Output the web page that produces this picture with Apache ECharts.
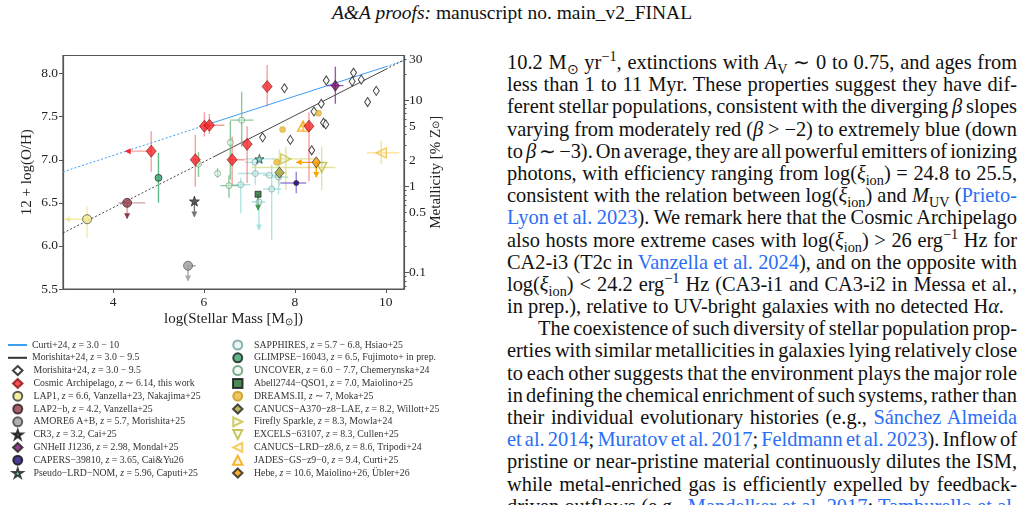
<!DOCTYPE html>
<html>
<head>
<meta charset="utf-8">
<script src="https://cdn.jsdelivr.net/npm/echarts@6/dist/echarts.min.js"></script>
<style>
html, body { margin: 0; padding: 0; width: 1024px; height: 505px; overflow: hidden; background: #fff; }
#chart { position: absolute; left: 0; top: 0; width: 500px; height: 505px; }
.hdr { position: absolute; left: 0; top: 2px; width: 1024px; text-align: center; font-family: 'Liberation Serif'; font-size: 19.5px; line-height: 22px; color: #111; }
#text { position: absolute; left: 507px; top: 51px; width: 510px; font-family: 'Liberation Serif'; font-size: 20.4px; line-height: 22.2px; color: #111; }
#text div { white-space: nowrap; height: 22.2px; }
#text .ind { padding-left: 31px; }
.ln { color: #2a6ef5; }
sub, sup { font-size: 0.7em; line-height: 0; }
</style>
</head>
<body>
<div class="hdr"><i>A&amp;A proofs:</i> manuscript no. main_v2_FINAL</div>
<div id="chart"></div>
<div id="text">
<div class="j"><span class="w">10.2 M<sub>⊙</sub> yr<sup>−1</sup>, extinctions with <i>A</i><sub>V</sub> ∼ 0 to 0.75, and ages from</span></div>
<div class="j"><span class="w">less than 1 to 11 Myr. These properties suggest they have dif-</span></div>
<div class="j"><span class="w">ferent stellar populations, consistent with the diverging <i>β</i> slopes</span></div>
<div class="j"><span class="w">varying from moderately red (<i>β</i> &gt; −2) to extremely blue (down</span></div>
<div class="j"><span class="w">to <i>β</i> ∼ −3). On average, they are all powerful emitters of ionizing</span></div>
<div class="j"><span class="w">photons, with efficiency ranging from log(<i>ξ</i><sub>ion</sub>) = 24.8 to 25.5,</span></div>
<div class="j"><span class="w">consistent with the relation between log(<i>ξ</i><sub>ion</sub>) and <i>M</i><sub>UV</sub> (<span class="ln">Prieto-</span></span></div>
<div class="j"><span class="w"><span class="ln">Lyon et al. 2023</span>). We remark here that the Cosmic Archipelago</span></div>
<div class="j"><span class="w">also hosts more extreme cases with log(<i>ξ</i><sub>ion</sub>) &gt; 26 erg<sup>−1</sup> Hz for</span></div>
<div class="j"><span class="w">CA2-i3 (T2c in <span class="ln">Vanzella et al. 2024</span>), and on the opposite with</span></div>
<div class="j"><span class="w">log(<i>ξ</i><sub>ion</sub>) &lt; 24.2 erg<sup>−1</sup> Hz (CA3-i1 and CA3-i2 in Messa et al.,</span></div>
<div><span class="w">in prep.), relative to UV-bright galaxies with no detected H<i>α</i>.</span></div>
<div class="j ind"><span class="w">The coexistence of such diversity of stellar population prop-</span></div>
<div class="j"><span class="w">erties with similar metallicities in galaxies lying relatively close</span></div>
<div class="j"><span class="w">to each other suggests that the environment plays the major role</span></div>
<div class="j"><span class="w">in defining the chemical enrichment of such systems, rather than</span></div>
<div class="j"><span class="w">their individual evolutionary histories (e.g., <span class="ln">Sánchez Almeida</span></span></div>
<div class="j"><span class="w"><span class="ln">et al. 2014</span>; <span class="ln">Muratov et al. 2017</span>; <span class="ln">Feldmann et al. 2023</span>). Inflow of</span></div>
<div class="j"><span class="w">pristine or near-pristine material continuously dilutes the ISM,</span></div>
<div class="j"><span class="w">while metal-enriched gas is efficiently expelled by feedback-</span></div>
<div class="j"><span class="w">driven outflows (e.g., <span class="ln">Mandelker et al. 2017</span>; <span class="ln">Tamburello et al.</span></span></div>
</div>
<script>
// axis ticks
var massTicks = [4, 6, 8, 10];
var ohTicks = [5.5, 6.0, 6.5, 7.0, 7.5, 8.0];
var metalLabels = [0.1, 0.5, 1, 2, 5, 10, 30];      // % Z_sun
var metalMajor = [0.1, 1, 10];
var metalMinor = [0.07, 0.08, 0.09, 0.2, 0.3, 0.4, 0.5, 0.6, 0.7, 0.8, 0.9, 2, 3, 4, 5, 6, 7, 8, 9, 20, 30];

// relations: [logM, 12+log(O/H)]
var curtiSolid = [[6.2, 7.43], [10.0, 8.08]];
var curtiLow = [[2.9, 6.86], [6.2, 7.43]];
var curtiHigh = [[10.0, 8.08], [10.4, 8.15]];
var morishitaSolid = [[6.2, 7.03], [10.0, 8.05]];
var morishitaLow = [[2.9, 6.15], [6.2, 7.03]];
var morishitaHigh = [[10.0, 8.05], [10.4, 8.16]];

// morishita+24 individual galaxies
var morishitaPts = [[7.77, 7.83], [8.69, 7.92], [9.29, 8.01], [9.26, 7.91], [9.46, 7.93], [9.79, 7.80], [9.60, 7.67],
    [8.58, 7.65], [8.42, 7.56], [8.63, 7.43], [8.68, 7.41], [7.29, 7.26], [7.90, 7.23], [8.37, 7.11]];

// rows: [logM, OH, mLo, mHi, ohLo, ohHi, mass upper limit, OH upper limit]
var cosmicArchipelago = [
    [4.84, 7.10, 4.28, 4.84, 6.86, 7.33, 1, 0],
    [6.01, 7.39, 5.92, 6.10, 7.27, 7.55, 0, 0],
    [6.12, 7.40, 6.02, 6.45, 7.30, 7.53, 0, 0],
    [5.81, 7.00, 5.75, 5.90, 6.69, 7.29, 0, 0],
    [6.62, 7.00, 6.55, 6.90, 6.71, 7.27, 0, 0],
    [6.95, 7.18, null, null, 6.73, 7.39, 0, 0],
    [7.39, 7.85, null, null, 7.62, 8.10, 0, 0],
    [8.31, 7.39, null, null, 6.75, 7.55, 0, 0]
];
var lap1 = [[3.43, 6.31, 2.95, 3.43, 6.09, 6.46, 1, 0]];
var lap2b = [[4.31, 6.50, 4.12, 4.71, 6.32, 6.50, 0, 1]];
var amore6 = [[5.65, 5.77, 5.65, 5.82, 5.60, 5.77, 0, 1]];
var cr3 = [[5.79, 6.52, null, null, 6.34, 6.52, 0, 1]];
var gnheii = [[8.89, 7.86, 8.70, 9.07, 7.65, 8.08, 0, 0]];
var capers = [[8.03, 6.73, 7.68, 8.25, 6.61, 6.86, 0, 0]];
var pseudoLrd = [[7.22, 7.01, 6.90, 7.55, null, null, 0, 0]];
var sapphires = [
    [6.81, 6.71, 6.62, 7.02, 6.38, 6.79, 0, 0],
    [7.13, 6.84, 6.75, 7.38, 6.71, 6.96, 0, 0],
    [7.12, 6.97, 6.90, 7.30, null, null, 0, 0],
    [7.44, 6.82, 7.30, 7.60, null, null, 0, 0],
    [7.49, 6.66, 7.30, 7.70, 6.07, 6.94, 0, 0],
    [7.21, 6.51, 7.05, 7.35, 6.19, 6.51, 0, 1],
    [7.64, 6.80, 7.50, 7.85, 6.60, 6.95, 0, 0]
];
var glimpse = [[5.00, 6.79, null, null, 6.50, 7.08, 0, 0]];
var uncover = [
    [5.88, 6.95, null, null, 6.80, 7.09, 0, 0],
    [6.30, 6.84, null, null, 6.79, 6.90, 0, 0],
    [6.58, 7.20, null, null, 6.77, 7.45, 0, 0],
    [6.55, 6.70, 6.36, 6.76, 6.56, 6.82, 0, 0],
    [6.83, 7.46, 6.58, 7.09, 7.15, 7.79, 0, 0]
];
var abell2744 = [[7.19, 6.60, null, null, 6.42, 6.60, 0, 1]];
var dreams = [[7.73, 7.35, null, null, null, null, 0, 0], [8.52, 7.54, null, null, null, null, 0, 0], [7.60, 6.97, null, null, null, null, 0, 0]];
var canucsA370 = [[7.66, 6.85, 7.55, 7.82, 6.69, 7.12, 0, 0]];
var firefly = [[7.80, 7.01, 7.49, 8.45, 6.65, 7.15, 0, 0]];
var excels = [[8.59, 6.91, 7.05, 8.89, 6.65, 7.15, 0, 0]];
var canucsLrd = [[9.90, 7.08, 9.58, 10.30, 6.95, 7.22, 0, 0]];
var jades = [[8.18, 7.39, 8.11, 8.26, 7.33, 7.45, 0, 0]];
var hebe = [[8.47, 6.97, 8.04, 8.47, 6.80, 6.97, 1, 1]];

var FONT = 'Liberation Serif';
var OH_SUN = 8.69;
function ohOfMetal(p) { return OH_SUN + Math.log10(p / 100); }

var STAR = 'path://M50,0 L61.8,35.1 L98.1,35.1 L68.5,56.7 L79.4,91 L50,70 L20.6,91 L31.5,56.7 L1.9,35.1 L38.2,35.1 Z';
var TRI_R = 'path://M0,0 L10,5 L0,10 Z';
var TRI_L = 'path://M10,0 L0,5 L10,10 Z';
var TRI_D = 'path://M0,0 L10,0 L5,10 Z';

//误差棒 + 上限箭头
function errorBars(color, arrowColor) {
    return function (params, api) {
        var x = api.value(0), y = api.value(1);
        var kids = [];
        var st = {stroke: color, lineWidth: 1.4};
        function seg(a, b) {
            kids.push({type: 'line', shape: {x1: a[0], y1: a[1], x2: b[0], y2: b[1]}, style: st});
        }
        var mLo = api.value(2), mHi = api.value(3), oLo = api.value(4), oHi = api.value(5);
        if (isFinite(mLo) && isFinite(mHi)) seg(api.coord([mLo, y]), api.coord([mHi, y]));
        if (isFinite(oLo) && isFinite(oHi)) seg(api.coord([x, oLo]), api.coord([x, oHi]));
        if (api.value(6) === 1) {
            var a = api.coord([mLo, y]);
            kids.push({type: 'polygon', shape: {points: [[a[0] - 1, a[1]], [a[0] + 5, a[1] - 3], [a[0] + 5, a[1] + 3]]}, style: {fill: arrowColor}});
        }
        if (api.value(7) === 1) {
            var b = api.coord([x, oLo]);
            kids.push({type: 'polygon', shape: {points: [[b[0], b[1] + 1], [b[0] - 3, b[1] - 5], [b[0] + 3, b[1] - 5]]}, style: {fill: arrowColor}});
        }
        return {type: 'group', children: kids};
    };
}

var series = [];

function addLine(name, pts, color, width, dashed) {
    series.push({
        type: 'line', name: name, data: pts, symbol: 'none', showSymbol: false, silent: true, z: 1,
        lineStyle: {color: color, width: width, type: dashed ? [2, 2] : 'solid'},
        itemStyle: {color: color}
    });
}

function addSample(name, rows, marker, errColor, arrowColor) {
    series.push({
        type: 'custom', name: name + ' (err)', data: rows, clip: true, silent: true, z: 2,
        dimensions: ['m', 'oh', 'mlo', 'mhi', 'olo', 'ohi', 'lm', 'lo'].map(function (d) { return {name: d, type: 'float'}; }),
        encode: {x: 0, y: 1},
        renderItem: errorBars(errColor, arrowColor || errColor)
    });
    series.push({
        type: 'scatter', name: name, z: 4, silent: true,
        data: rows.map(function (r) { return [r[0], r[1]]; }),
        symbol: marker.symbol, symbolSize: marker.size,
        itemStyle: {color: marker.fill, borderColor: marker.edge, borderWidth: marker.bw || 0.8}
    });
}

addLine('Curti+24, z = 3.0 − 10', curtiSolid, '#3d9df2', 1, false);
addLine('curti-low', curtiLow, '#3d9df2', 1, true);
addLine('curti-high', curtiHigh, '#3d9df2', 1, true);
addLine('Morishita+24, z = 3.0 − 9.5', morishitaSolid, '#333', 0.9, false);
addLine('morishita-low', morishitaLow, '#333', 0.9, true);
addLine('morishita-high', morishitaHigh, '#333', 0.9, true);

series.push({
    type: 'scatter', name: 'Morishita+24, z = 3.0 − 9.5\u200b', data: morishitaPts, z: 3, silent: true,
    symbol: 'diamond', symbolSize: [6, 9],
    itemStyle: {color: '#fff', borderColor: '#111', borderWidth: 1}
});

addSample('SAPPHIRES, z = 5.7 − 6.8, Hsiao+25', sapphires, {symbol: 'circle', size: 6, fill: 'rgba(210,235,235,0.6)', edge: '#6e9e9a'}, 'rgba(140,220,214,0.7)');
addSample('UNCOVER, z = 6.0 − 7.7, Chemerynska+24', uncover, {symbol: 'circle', size: 6, fill: 'rgba(230,245,235,0.6)', edge: '#5b9a6b'}, 'rgba(100,185,120,0.75)');
addSample('GLIMPSE−16043, z = 6.5, Fujimoto+ in prep.', glimpse, {symbol: 'circle', size: 7, fill: '#35a46a', edge: '#1a1a1a'}, 'rgba(70,175,110,0.85)');
addSample('Abell2744−QSO1, z = 7.0, Maiolino+25', abell2744, {symbol: 'rect', size: 6, fill: '#1f6b30', edge: '#111'}, '#3c9c4c');
addSample('DREAMS.II, z ∼ 7, Moka+25', dreams, {symbol: 'circle', size: 6, fill: '#e9b834', edge: '#c8961c', bw: 0.6}, '#e9b834');
addSample('CANUCS−A370−z8−LAE, z = 8.2, Willott+25', canucsA370, {symbol: 'diamond', size: [9, 11], fill: '#a9a83a', edge: '#222'}, 'rgba(215,215,130,0.7)');
addSample('Firefly Sparkle, z = 8.3, Mowla+24', firefly, {symbol: TRI_R, size: [10, 10], fill: 'rgba(230,230,150,0.25)', edge: '#c5bf3e', bw: 1.4}, 'rgba(215,215,120,0.7)');
addSample('EXCELS−63107, z = 8.3, Cullen+25', excels, {symbol: TRI_D, size: [10, 10], fill: 'rgba(230,230,150,0.25)', edge: '#b8b535', bw: 1.4}, 'rgba(215,215,120,0.7)');
addSample('CANUCS−LRD−z8.6, z = 8.6, Tripodi+24', canucsLrd, {symbol: TRI_L, size: [10, 10], fill: 'rgba(250,225,140,0.25)', edge: '#f2c13a', bw: 1.4}, 'rgba(245,215,110,0.75)');
addSample('JADES−GS−z9−0, z = 9.4, Curti+25', jades, {symbol: 'triangle', size: [11, 10], fill: 'rgba(250,200,100,0.25)', edge: '#f5a300', bw: 1.4}, '#f5b540');
addSample('Hebe, z = 10.6, Maiolino+26, Übler+26', hebe, {symbol: 'diamond', size: [8, 11], fill: '#ff9c00', edge: '#222'}, '#ffa500');
addSample('Pseudo−LRD−NOM, z = 5.96, Caputi+25', pseudoLrd, {symbol: STAR, size: 9, fill: '#62d0c2', edge: '#1a1a1a'}, 'rgba(150,225,218,0.75)');
addSample('CAPERS−39810, z = 3.65, Cai&Yu26', capers, {symbol: 'circle', size: 5, fill: '#1d0b74', edge: '#111'}, 'rgba(140,110,210,0.85)');
addSample('GNHeII J1236, z = 2.98, Mondal+25', gnheii, {symbol: 'diamond', size: [8, 11], fill: '#7d0f72', edge: '#222'}, 'rgba(140,60,160,0.85)');
addSample('CR3, z = 3.2, Cai+25', cr3, {symbol: STAR, size: 10, fill: '#3a3a3a', edge: '#111'}, '#777');
addSample('AMORE6 A+B, z = 5.7, Morishita+25', amore6, {symbol: 'circle', size: 9, fill: '#9c9c9c', edge: '#444'}, '#aaa');
addSample('LAP2−b, z = 4.2, Vanzella+25', lap2b, {symbol: 'circle', size: 9, fill: '#8d3a45', edge: '#2a1a1a'}, 'rgba(190,140,145,0.8)', '#8d3a45');
addSample('LAP1, z = 6.6, Vanzella+23, Nakajima+25', lap1, {symbol: 'circle', size: 9, fill: '#f2e88a', edge: '#333'}, 'rgba(240,232,140,0.8)');
addSample('Cosmic Archipelago, z ∼ 6.14, this work', cosmicArchipelago, {symbol: 'diamond', size: [10, 12], fill: '#f4272a', edge: '#8a1010'}, 'rgba(240,80,80,0.55)', '#f4272a');

var lineNames = ['Curti+24, z = 3.0 − 10', 'Morishita+24, z = 3.0 − 9.5'];
var leftNames = ['Morishita+24, z = 3.0 − 9.5\u200b',
    'Cosmic Archipelago, z ∼ 6.14, this work', 'LAP1, z = 6.6, Vanzella+23, Nakajima+25', 'LAP2−b, z = 4.2, Vanzella+25',
    'AMORE6 A+B, z = 5.7, Morishita+25', 'CR3, z = 3.2, Cai+25', 'GNHeII J1236, z = 2.98, Mondal+25',
    'CAPERS−39810, z = 3.65, Cai&Yu26', 'Pseudo−LRD−NOM, z = 5.96, Caputi+25'];
var rightNames = ['SAPPHIRES, z = 5.7 − 6.8, Hsiao+25', 'GLIMPSE−16043, z = 6.5, Fujimoto+ in prep.',
    'UNCOVER, z = 6.0 − 7.7, Chemerynska+24', 'Abell2744−QSO1, z = 7.0, Maiolino+25', 'DREAMS.II, z ∼ 7, Moka+25',
    'CANUCS−A370−z8−LAE, z = 8.2, Willott+25', 'Firefly Sparkle, z = 8.3, Mowla+24', 'EXCELS−63107, z = 8.3, Cullen+25',
    'CANUCS−LRD−z8.6, z = 8.6, Tripodi+24', 'JADES−GS−z9−0, z = 9.4, Curti+25', 'Hebe, z = 10.6, Maiolino+26, Übler+26'];

function legendText(name) {
    return name.replace('\u200b', '').replace(/(^|\s)z(\s)/, '$1{i|z}$2');
}

var ROW = 12.8, LEG_TOP = 339.5;
function makeLegend(left, top, names, iconW, iconH, textPad) {
    return {
        left: left, top: top, orient: 'vertical', padding: 0, itemGap: ROW - 11,
        itemWidth: iconW, itemHeight: iconH, selectedMode: false, data: names,
        formatter: legendText,
        textStyle: {fontFamily: FONT, fontSize: 9.8, lineHeight: 11, color: '#333', padding: [0, 0, 0, textPad],
            rich: {i: {fontFamily: FONT, fontSize: 9.8, fontStyle: 'italic', color: '#333'}}}
    };
}

var lineLegend = makeLegend(7, LEG_TOP, lineNames.map(function (n) {
    return {name: n, itemStyle: {color: 'rgba(0,0,0,0)', borderColor: 'rgba(0,0,0,0)'}};
}), 19, 11, 0);

var axisLine = {show: true, lineStyle: {color: '#555', width: 1.2}};
var tickStyle = {color: '#555', width: 1};
var labelStyle = {fontFamily: FONT, fontSize: 13.5, color: '#222'};
var nameStyle = {fontFamily: FONT, fontSize: 15, color: '#222'};

var chart = echarts.init(document.getElementById('chart'));
chart.setOption({
    animation: false,
    grid: {left: 63, top: 55.5, width: 341, height: 233.5, show: true, borderColor: '#555', borderWidth: 1.2},
    legend: [
        lineLegend,
        makeLegend(12, LEG_TOP + 2 * ROW, leftNames, 9.5, 9, 6),
        makeLegend(232, LEG_TOP, rightNames, 9.5, 9, 6.5)
    ],
    xAxis: {
        type: 'value', min: 2.9, max: 10.4, splitLine: {show: false}, axisLine: axisLine,
        axisTick: {show: true, customValues: massTicks, length: 4, lineStyle: tickStyle},
        axisLabel: Object.assign({customValues: massTicks, margin: 6, formatter: function (v) { return String(v); }}, labelStyle),
        name: 'log(Stellar Mass [M{s|⊙}])', nameLocation: 'middle', nameGap: 22,
        nameTextStyle: Object.assign({rich: {s: {fontFamily: FONT, fontSize: 10, color: '#222', padding: [6, 0, 0, 0]}}}, nameStyle)
    },
    yAxis: [{
        type: 'value', min: 5.5, max: 8.21, position: 'left', splitLine: {show: false}, axisLine: axisLine,
        axisTick: {show: true, customValues: ohTicks, length: 4, lineStyle: tickStyle},
        axisLabel: Object.assign({customValues: ohTicks, margin: 5, formatter: function (v) { return v.toFixed(1); }}, labelStyle),
        name: '12 + log(O/H)', nameLocation: 'middle', nameRotate: 90, nameGap: 28, nameMoveOverlap: false,
        nameTextStyle: nameStyle
    }, {
        type: 'value', min: 5.5, max: 8.21, position: 'right', splitLine: {show: false}, axisLine: axisLine,
        axisTick: {show: true, customValues: metalMajor.map(ohOfMetal), length: 5, lineStyle: tickStyle},
        axisLabel: Object.assign({
            customValues: metalLabels.map(ohOfMetal), margin: 5,
            formatter: function (v) {
                var p = 100 * Math.pow(10, v - OH_SUN);
                return p < 0.95 ? p.toFixed(1) : String(Math.round(p));
            }
        }, labelStyle),
        name: 'Metallicity [% Z{s|⊙}]', nameLocation: 'middle', nameRotate: 90, nameGap: 25, nameMoveOverlap: false,
        nameTextStyle: Object.assign({rich: {s: {fontFamily: FONT, fontSize: 10, color: '#222'}}}, nameStyle)
    }, {
        type: 'value', min: 5.5, max: 8.21, position: 'right', splitLine: {show: false}, axisLine: {show: false},
        axisTick: {show: true, customValues: metalMinor.map(ohOfMetal), length: 2.5, lineStyle: tickStyle},
        axisLabel: {show: false}
    }],
    series: series
});

//两端对齐
function justify() {
    var W = 510;
    document.querySelectorAll('#text .j').forEach(function (el) {
        el.style.wordSpacing = '0px';
        var span = el.querySelector('span.w');
        var w = span.getBoundingClientRect().width;
        var indent = parseFloat(getComputedStyle(el).paddingLeft) || 0;
        var n = (span.textContent.match(/ /g) || []).length;
        if (n > 0) el.style.wordSpacing = ((W - indent - w) / n) + 'px';
    });
}
justify();
if (document.fonts && document.fonts.ready) document.fonts.ready.then(justify);
</script>
</body>
</html>
